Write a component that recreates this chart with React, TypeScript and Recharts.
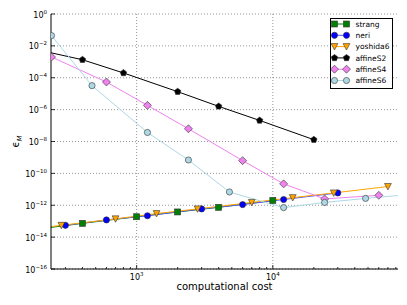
import React from "react";
import { LineChart, Line, XAxis, YAxis, CartesianGrid, Legend } from "recharts";

// error vs computational cost
const strangCost = [200, 400, 1000, 2000, 4000, 10000];
const strangErr = [3.4e-14, 7.3e-14, 1.9e-13, 3.8e-13, 7.4e-13, 2.0e-12];

const neriCost = [300, 600, 1200, 3000, 6000, 12000, 30000];
const neriErr = [5.5e-14, 1.2e-13, 2.2e-13, 5.9e-13, 1.1e-12, 2.3e-12, 5.9e-12];

const yoshidaCost = [140, 280, 700, 1400, 2800, 7000, 14000, 28000, 70000];
const yoshidaErr = [2.8e-14, 5.5e-14, 1.4e-13, 3.0e-13, 5.9e-13, 1.5e-12, 3.0e-12, 5.9e-12, 1.5e-11];

const affineS2Cost = [200, 400, 800, 2000, 4000, 8000, 20000];
const affineS2Err = [5e-3, 1.35e-3, 2.0e-4, 1.34e-5, 1.6e-6, 2.1e-7, 1.3e-8];

const affineS4Cost = [237, 600, 1200, 2400, 6000, 12000, 24000, 60000];
const affineS4Err = [2.0e-3, 5.4e-5, 1.85e-6, 6.3e-8, 6.3e-10, 2.2e-11, 2.5e-12, 4.2e-12];

const affineS6Cost = [237, 470, 1200, 2400, 4800, 12000, 24000, 48000, 96000];
const affineS6Err = [4.4e-2, 3.2e-5, 3.7e-8, 6.9e-10, 6.8e-12, 7.1e-13, 1.5e-12, 2.7e-12, 4.5e-12];

const X_MAJOR = [1000, 10000];
const X_TICKS = [
  300, 400, 500, 600, 700, 800, 900, 1000,
  2000, 3000, 4000, 5000, 6000, 7000, 8000, 9000, 10000,
  20000, 30000, 40000, 50000, 60000, 70000, 80000,
];
const Y_TICKS = [1, 1e-2, 1e-4, 1e-6, 1e-8, 1e-10, 1e-12, 1e-14, 1e-16];

const FONT = "'DejaVu Sans', sans-serif";

type Shape = "square" | "circle" | "tri" | "pent" | "diamond";

const rows = (c: number[], e: number[]) => c.map((cost, i) => ({ cost, err: e[i] }));

const SERIES: { name: string; data: any[]; fill: string; stroke: string; shape: Shape }[] = [
  { name: "strang", data: rows(strangCost, strangErr), fill: "#008000", stroke: "#008000", shape: "square" },
  { name: "neri", data: rows(neriCost, neriErr), fill: "#0000ff", stroke: "#5555ff", shape: "circle" },
  { name: "yoshida6", data: rows(yoshidaCost, yoshidaErr), fill: "#ffa500", stroke: "#ffa500", shape: "tri" },
  { name: "affineS2", data: rows(affineS2Cost, affineS2Err), fill: "#000000", stroke: "#000000", shape: "pent" },
  { name: "affineS4", data: rows(affineS4Cost, affineS4Err), fill: "#ee82ee", stroke: "#ee82ee", shape: "diamond" },
  { name: "affineS6", data: rows(affineS6Cost, affineS6Err), fill: "#add8e6", stroke: "#add8e6", shape: "circle" },
];

function Marker({ shape, cx, cy, fill }: { shape: Shape; cx: number; cy: number; fill: string }) {
  const edge = { stroke: "#333", strokeWidth: 0.6 };
  if (shape === "square") return <rect x={cx - 3} y={cy - 3} width={6} height={6} fill={fill} {...edge} />;
  if (shape === "circle") return <circle cx={cx} cy={cy} r={3.1} fill={fill} {...edge} />;
  if (shape === "tri") {
    const pts = `${cx - 3.4},${cy - 3} ${cx + 3.4},${cy - 3} ${cx},${cy + 3.4}`;
    return <polygon points={pts} fill={fill} {...edge} />;
  }
  if (shape === "diamond") {
    const pts = `${cx},${cy - 4} ${cx + 4},${cy} ${cx},${cy + 4} ${cx - 4},${cy}`;
    return <polygon points={pts} fill={fill} {...edge} />;
  }
  const pts = [0, 1, 2, 3, 4]
    .map((k) => {
      const a = ((-90 + 72 * k) * Math.PI) / 180;
      return `${cx + 3.4 * Math.cos(a)},${cy + 3.4 * Math.sin(a)}`;
    })
    .join(" ");
  return <polygon points={pts} fill={fill} {...edge} />;
}

const sup = (v: number) => {
  const e = Math.round(Math.log10(v));
  return e < 0 ? `\u2212${-e}` : `${e}`;
};

function BottomTick(props: any) {
  const { x, y, payload } = props;
  const major = X_MAJOR.includes(payload.value);
  return (
    <g>
      <line x1={x} x2={x} y1={y} y2={y - (major ? 4 : 2)} stroke="#000" strokeWidth={0.8} />
      {major && (
        <text x={x} y={y + 11} textAnchor="middle" fontSize={8} fontFamily={FONT} fill="#000">
          10<tspan dy={-4} fontSize={5.5}>{sup(payload.value)}</tspan>
        </text>
      )}
    </g>
  );
}

function TopTick(props: any) {
  const { x, y, payload } = props;
  const major = X_MAJOR.includes(payload.value);
  return <line x1={x} x2={x} y1={y} y2={y + (major ? 4 : 2)} stroke="#000" strokeWidth={0.8} />;
}

function LeftTick(props: any) {
  const { x, y, payload } = props;
  return (
    <g>
      <line x1={x} x2={x + 4} y1={y} y2={y} stroke="#000" strokeWidth={0.8} />
      <text x={x - 4} y={y + 3.5} textAnchor="end" fontSize={8} fontFamily={FONT} fill="#000">
        10<tspan dy={-4} fontSize={5.5}>{sup(payload.value)}</tspan>
      </text>
    </g>
  );
}

function RightTick(props: any) {
  const { x, y } = props;
  return <line x1={x} x2={x - 4} y1={y} y2={y} stroke="#000" strokeWidth={0.8} />;
}

function YLabel(props: any) {
  const { viewBox } = props;
  const cx = viewBox.x + 19;
  const cy = viewBox.y + viewBox.height / 2;
  return (
    <text x={cx} y={cy} transform={`rotate(-90, ${cx}, ${cy})`} textAnchor="middle" fontSize={10} fontFamily={FONT} fill="#000">
      {"\u03f5"}
      <tspan dy={2.5} fontSize={7} fontStyle="italic">M</tspan>
    </text>
  );
}

function LegendBox() {
  return (
    <div style={{ width: 63, height: 71, border: "1px solid #000", background: "#fff", boxSizing: "border-box" }}>
      <svg width={61} height={69} style={{ display: "block" }}>
        {SERIES.map((s, i) => {
          const y = 5 + i * 11.3;
          return (
            <g key={s.name}>
              <line x1={3.5} x2={15.5} y1={y} y2={y} stroke={s.stroke} strokeWidth={1} />
              <Marker shape={s.shape} cx={3.5} cy={y} fill={s.fill} />
              <Marker shape={s.shape} cx={15.5} cy={y} fill={s.fill} />
              <text x={24.5} y={y + 2.7} fontSize={7.5} fontFamily={FONT} fill="#000">
                {s.name}
              </text>
            </g>
          );
        })}
      </svg>
    </div>
  );
}

export default function App() {
  return (
    <div style={{ position: "absolute", left: 0, top: 0, width: 407, height: 305, background: "#fff" }}>
      <LineChart width={407} height={305} margin={{ top: 14, right: 9, bottom: 0, left: 0 }} style={{ fontFamily: FONT }}>
        <CartesianGrid
          xAxisId="b"
          yAxisId="l"
          verticalValues={X_MAJOR}
          horizontalValues={Y_TICKS}
          stroke="#000"
          strokeOpacity={0.7}
          strokeWidth={0.6}
          strokeDasharray="1 2"
        />
        <XAxis
          xAxisId="b"
          type="number"
          dataKey="cost"
          scale="log"
          domain={[235, 83000]}
          allowDataOverflow
          ticks={X_TICKS}
          interval={0}
          tickSize={0}
          tickMargin={0}
          tickLine={false}
          tick={(p: any) => <BottomTick {...p} />}
          height={36}
          axisLine={{ stroke: "#000", strokeWidth: 1 }}
          label={{ value: "computational cost", position: "insideBottom", offset: 15, fontSize: 10, fill: "#000", fontFamily: FONT }}
        />
        <XAxis
          xAxisId="t"
          orientation="top"
          type="number"
          dataKey="cost"
          scale="log"
          domain={[235, 83000]}
          allowDataOverflow
          ticks={X_TICKS}
          interval={0}
          tickSize={0}
          tickMargin={0}
          tickLine={false}
          tick={(p: any) => <TopTick {...p} />}
          height={0}
          axisLine={{ stroke: "#000", strokeWidth: 1 }}
        />
        <YAxis
          yAxisId="l"
          type="number"
          scale="log"
          domain={[1e-16, 1]}
          allowDataOverflow
          ticks={Y_TICKS}
          interval={0}
          tickSize={0}
          tickMargin={0}
          tickLine={false}
          tick={(p: any) => <LeftTick {...p} />}
          width={51}
          axisLine={{ stroke: "#000", strokeWidth: 1 }}
          label={{ content: (p: any) => <YLabel {...p} /> }}
        />
        <YAxis
          yAxisId="r"
          orientation="right"
          type="number"
          scale="log"
          domain={[1e-16, 1]}
          allowDataOverflow
          ticks={Y_TICKS}
          interval={0}
          tickSize={0}
          tickMargin={0}
          tickLine={false}
          tick={(p: any) => <RightTick {...p} />}
          width={0}
          axisLine={{ stroke: "#000", strokeWidth: 1 }}
        />
        {SERIES.map((s) => (
          <Line
            key={s.name}
            name={s.name}
            data={s.data}
            dataKey="err"
            xAxisId="b"
            yAxisId="l"
            type="linear"
            stroke={s.stroke}
            strokeWidth={1}
            dot={(p: any) => <Marker key={`${s.name}-${p.index}`} shape={s.shape} cx={p.cx} cy={p.cy} fill={s.fill} />}
            activeDot={false}
            isAnimationActive={false}
          />
        ))}
        <Legend
          layout="horizontal"
          verticalAlign="middle"
          align="center"
          wrapperStyle={{ top: 18, left: 330, width: 63, height: 71 }}
          content={() => <LegendBox />}
        />
      </LineChart>
    </div>
  );
}
